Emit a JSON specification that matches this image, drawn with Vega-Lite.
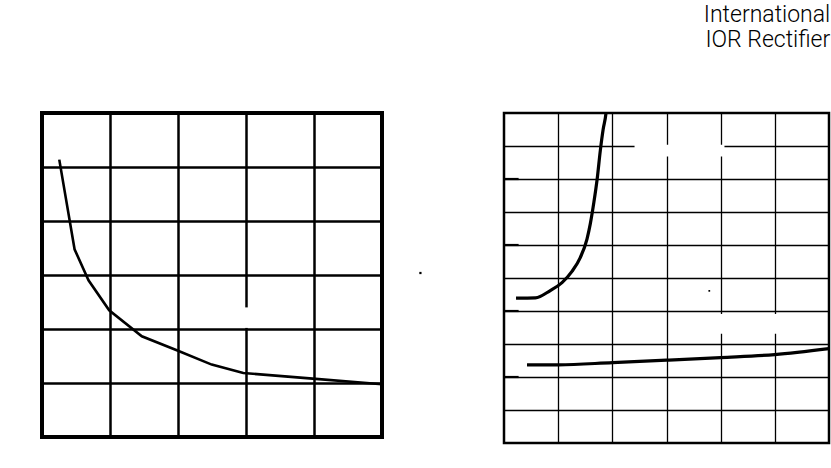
{
  "$schema": "https://vega.github.io/schema/vega-lite/v6.json",
  "background": "white",
  "padding": {"top": 4, "left": 40, "right": 2, "bottom": 0},
  "bounds": "flush",
  "spacing": 122,
  "title": {
    "text": "International",
    "subtitle": "IOR Rectifier",
    "anchor": "end",
    "font": "Roboto",
    "fontWeight": 300,
    "fontSize": 23,
    "color": "black",
    "subtitleFont": "Roboto",
    "subtitleFontWeight": 300,
    "subtitleFontSize": 23,
    "subtitleColor": "black",
    "subtitlePadding": 2,
    "offset": 59
  },
  "datasets": {
    "left": [
      {"x": 0.254, "y": 5.137},
      {"x": 0.479, "y": 3.476},
      {"x": 0.684, "y": 2.902},
      {"x": 0.988, "y": 2.346},
      {"x": 1.468, "y": 1.865},
      {"x": 1.982, "y": 1.606},
      {"x": 2.496, "y": 1.341},
      {"x": 2.96, "y": 1.185},
      {"x": 3.98, "y": 1.081},
      {"x": 5.0, "y": 0.976}
    ],
    "right": [
      {"series": "A", "x": 0.222, "y": 4.39},
      {"series": "A", "x": 0.58, "y": 4.40},
      {"series": "A", "x": 0.854, "y": 4.62},
      {"series": "A", "x": 1.071, "y": 4.86},
      {"series": "A", "x": 1.255, "y": 5.2},
      {"series": "A", "x": 1.408, "y": 5.62},
      {"series": "A", "x": 1.532, "y": 6.18},
      {"series": "A", "x": 1.593, "y": 6.64},
      {"series": "A", "x": 1.66, "y": 7.3},
      {"series": "A", "x": 1.72, "y": 8.0},
      {"series": "A", "x": 1.778, "y": 8.86},
      {"series": "A", "x": 1.83, "y": 9.5},
      {"series": "A", "x": 1.883, "y": 10.0},
      {"series": "A", "x": 1.9, "y": 10.3},
      {"series": "B", "x": 0.425, "y": 2.367},
      {"series": "B", "x": 1.008, "y": 2.367},
      {"series": "B", "x": 2.005, "y": 2.437},
      {"series": "B", "x": 3.0, "y": 2.51},
      {"series": "B", "x": 4.0, "y": 2.59},
      {"series": "B", "x": 4.996, "y": 2.68},
      {"series": "B", "x": 6.0, "y": 2.86}
    ],
    "leftMask": [
      {"x1": 2.9, "x2": 3.1, "y1": 2.02, "y2": 2.4}
    ],
    "rightMask": [
      {"x1": 2.41, "x2": 4.07, "y1": 8.68, "y2": 9.04},
      {"x1": 3.6, "x2": 5.5, "y1": 3.31, "y2": 3.91}
    ],
    "leftDot": [{"x": 5.565, "y": 3.037}],
    "rightDot": [{"x": 3.79, "y": 4.61}],
    "ticks": [
      {"x1": 0, "x2": 0.27, "y": 2},
      {"x1": 0, "x2": 0.27, "y": 4},
      {"x1": 0, "x2": 0.27, "y": 6},
      {"x1": 0, "x2": 0.27, "y": 8}
    ]
  },
  "hconcat": [
    {
      "width": 340,
      "height": 324,
      "view": {"stroke": "black", "strokeWidth": 4},
      "encoding": {
        "x": {"type": "quantitative", "scale": {"domain": [0, 5], "nice": false, "zero": false},
              "axis": {"values": [1, 2, 3, 4], "labels": false, "ticks": false, "domain": false, "title": null,
                       "grid": true, "gridColor": "black", "gridWidth": 2.5, "gridOpacity": 1}},
        "y": {"type": "quantitative", "scale": {"domain": [0, 6], "nice": false, "zero": false},
              "axis": {"values": [1, 2, 3, 4, 5], "labels": false, "ticks": false, "domain": false, "title": null,
                       "grid": true, "gridColor": "black", "gridWidth": 2.5, "gridOpacity": 1}}
      },
      "layer": [
        {
          "data": {"name": "leftMask"},
          "mark": {"type": "rect", "color": "white"},
          "encoding": {"x": {"field": "x1"}, "x2": {"field": "x2"}, "y": {"field": "y1"}, "y2": {"field": "y2"}}
        },
        {
          "data": {"name": "left"},
          "mark": {"type": "line", "color": "black", "strokeWidth": 2.6, "clip": true},
          "encoding": {"x": {"field": "x"}, "y": {"field": "y"}}
        },
        {
          "data": {"name": "leftDot"},
          "mark": {"type": "square", "color": "black", "size": 5, "opacity": 1, "clip": false},
          "encoding": {"x": {"field": "x"}, "y": {"field": "y"}}
        }
      ]
    },
    {
      "width": 325,
      "height": 330,
      "view": {"stroke": "black", "strokeWidth": 2.5},
      "encoding": {
        "x": {"type": "quantitative", "scale": {"domain": [0, 6], "nice": false, "zero": false},
              "axis": {"values": [1, 2, 3, 4, 5], "labels": false, "ticks": false, "domain": false, "title": null,
                       "grid": true, "gridColor": "black", "gridWidth": 1.3, "gridOpacity": 1}},
        "y": {"type": "quantitative", "scale": {"domain": [0, 10], "nice": false, "zero": false},
              "axis": {"values": [1, 2, 3, 4, 5, 6, 7, 8, 9], "labels": false, "ticks": false, "domain": false, "title": null,
                       "grid": true, "gridColor": "black", "gridWidth": 1.3, "gridOpacity": 1}}
      },
      "layer": [
        {
          "data": {"name": "rightMask"},
          "mark": {"type": "rect", "color": "white"},
          "encoding": {"x": {"field": "x1"}, "x2": {"field": "x2"}, "y": {"field": "y1"}, "y2": {"field": "y2"}}
        },
        {
          "data": {"name": "ticks"},
          "mark": {"type": "rule", "color": "black", "strokeWidth": 2.2},
          "encoding": {"x": {"field": "x1"}, "x2": {"field": "x2"}, "y": {"field": "y"}}
        },
        {
          "data": {"name": "right"},
          "mark": {"type": "line", "color": "black", "strokeWidth": 3.2, "clip": true, "interpolate": "monotone"},
          "encoding": {"x": {"field": "x"}, "y": {"field": "y"}, "detail": {"field": "series"}}
        },
        {
          "data": {"name": "rightDot"},
          "mark": {"type": "square", "color": "black", "size": 3, "opacity": 1, "clip": false},
          "encoding": {"x": {"field": "x"}, "y": {"field": "y"}}
        }
      ]
    }
  ]
}
